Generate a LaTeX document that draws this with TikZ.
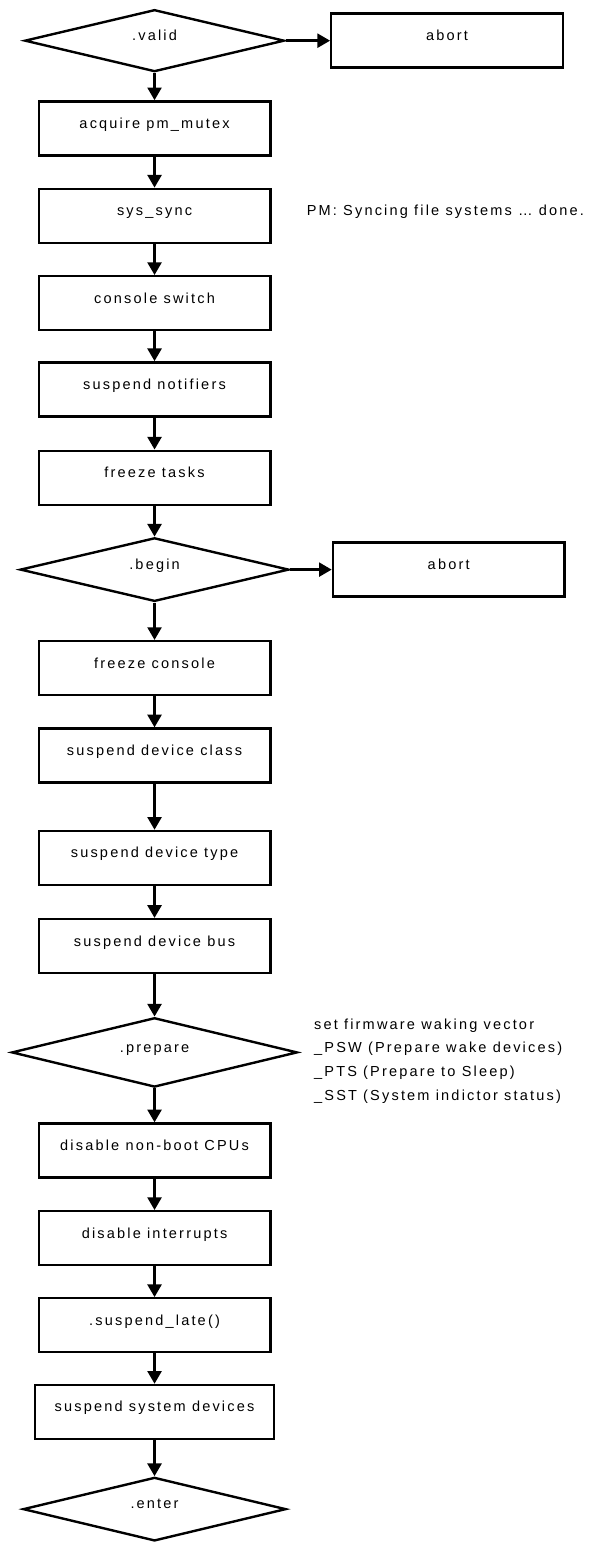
\documentclass[tikz,border=0pt]{standalone}
\usepackage{fontspec}
\setmainfont{Liberation Sans}[LetterSpace=15,Ligatures=NoCommon]
\usepackage{tikz}
\usetikzlibrary{arrows.meta,shapes,positioning}

\begin{document}
\begin{tikzpicture}[
    node distance=23.5pt,
    box/.style={rectangle, draw, line width=1.8pt, minimum width=173.7pt, minimum height=40.5pt, inner sep=0pt, text height=8pt, text depth=8pt, font=\fontsize{10.9}{13}\selectfont},
    test/.style={diamond, draw, line width=1.8pt, aspect=4, inner sep=0pt, text height=8pt, text depth=8.6pt, font=\fontsize{10.9}{13}\selectfont},
    msg/.style={inner sep=0pt, text height=8pt, text depth=8pt, font=\fontsize{10.9}{13}\selectfont},
    note/.style={align=left, inner sep=0pt, font=\fontsize{10.9}{17.8}\selectfont},
    arr/.style={-{Triangle[width=10.5pt,length=9.5pt]}, line width=1.8pt}
]
    \useasboundingbox (0,0) rectangle (442.5pt,-1157.25pt);
    \node[test, minimum width=194.7pt, minimum height=46.5pt] (valid) at (115.9pt,-30.5pt) {.valid};
    \node[box, right=33.4pt of valid] (abort1) {abort};
    \node[box, below=20.5pt of valid] (acquire) {acquire pm\_mutex};
    \node[box, below=23.25pt of acquire] (sync) {sys\_sync};
    \node[msg, right=26.25pt of sync] (pmsync) {PM: Syncing file systems … done.};
    \node[box, below=23.25pt of sync] (console) {console switch};
    \node[box, below=22.3pt of console] (notifiers) {suspend notifiers};
    \node[box, below=24pt of notifiers] (tasks) {freeze tasks};
    \node[test, below=23pt of tasks, minimum width=201.5pt, minimum height=47.7pt] (begin) {.begin};
    \node[box, right=31.2pt of begin] (abort2) {abort};
    \node[box, below=28pt of begin] (fconsole) {freeze console};
    \node[box, below=23.25pt of fconsole] (devclass) {suspend device class};
    \node[box, below=34.5pt of devclass] (devtype) {suspend device type};
    \node[box, below=23.8pt of devtype] (devbus) {suspend device bus};
    \node[test, below=31.7pt of devbus, minimum width=214.2pt, minimum height=52pt] (prepare) {.prepare};
    \node[note, right=11.5pt of prepare, yshift=-6.5pt] (acpi) {set firmware waking vector\\\_PSW (Prepare wake devices)\\\_PTS (Prepare to Sleep)\\\_SST (System indictor status)};
    \node[box, below=25.5pt of prepare] (cpus) {disable non-boot CPUs};
    \node[box, below=23.5pt of cpus] (irqs) {disable interrupts};
    \node[box, below=23pt of irqs] (late) {.suspend\_late()};
    \node[box, below=22.7pt of late, minimum width=179pt] (sysdev) {suspend system devices};
    \node[test, below=27pt of sysdev, minimum width=197.2pt, minimum height=47.7pt] (enter) {.enter};

    \draw[arr] (valid) -- (abort1);
    \draw[arr] (valid) -- (acquire);
    \draw[arr] (acquire) -- (sync);
    \draw[arr] (sync) -- (console);
    \draw[arr] (console) -- (notifiers);
    \draw[arr] (notifiers) -- (tasks);
    \draw[arr] (tasks) -- (begin);
    \draw[arr] (begin) -- (abort2);
    \draw[arr] (begin) -- (fconsole);
    \draw[arr] (fconsole) -- (devclass);
    \draw[arr] (devclass) -- (devtype);
    \draw[arr] (devtype) -- (devbus);
    \draw[arr] (devbus) -- (prepare);
    \draw[arr] (prepare) -- (cpus);
    \draw[arr] (cpus) -- (irqs);
    \draw[arr] (irqs) -- (late);
    \draw[arr] (late) -- (sysdev);
    \draw[arr] (sysdev) -- (enter);
\end{tikzpicture}
\end{document}
